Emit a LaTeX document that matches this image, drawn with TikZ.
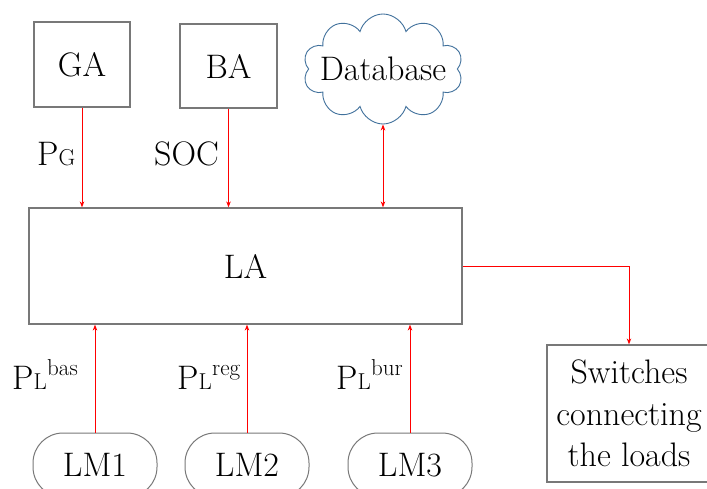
\documentclass[tikz,border=0pt]{standalone}
\usetikzlibrary{shapes.symbols,arrows.meta}
\definecolor{boxgray}{RGB}{120,120,120}
\definecolor{cloudblue}{RGB}{65,113,156}
\newcommand\bigtxt{\rmfamily\fontsize{34}{41.5}\selectfont}
\newcommand\smallfnt{\rmfamily\fontsize{23}{23}\selectfont}
\newcommand\smtxt[1]{{\smallfnt #1}}
\tikzset{
  agent/.style={draw=boxgray, line width=1.2pt, rectangle, inner sep=0pt,
                font=\bigtxt, align=center},
  lmbox/.style={draw=boxgray, line width=1pt, rectangle, rounded corners=30pt,
                inner sep=0pt, minimum width=124pt, minimum height=64pt, font=\bigtxt},
  lbl/.style={inner sep=0pt, anchor=base west, font=\bigtxt},
  suplbl/.style={inner sep=0pt, anchor=base west, font=\smallfnt, yshift=14pt},
  flow/.style={draw=red, line width=0.9pt, -{Stealth[length=6pt,width=4.5pt]}},
  flow2/.style={draw=red, line width=0.9pt, {Stealth[length=6pt,width=4.5pt]}-{Stealth[length=6pt,width=4.5pt]}}
}
\begin{document}
\begin{tikzpicture}[x=1pt,y=-1pt]
\fill[white] (0,0) rectangle (707,489);
\useasboundingbox (0,0) rectangle (707,489);

% agents
\node[agent, minimum width=96pt, minimum height=85pt] (GA) at (82,64.5) {GA};
\node[agent, minimum width=97pt, minimum height=84pt] (BA) at (228.5,66) {BA};
\node[cloud, cloud puffs=10, cloud ignores aspect, draw=cloudblue, line width=0.9pt,
      minimum width=160pt, minimum height=110pt, inner sep=0pt, font=\bigtxt]
      (DB) at (383,69) {\makebox[0pt]{Database}};
\node[agent, minimum width=433pt, minimum height=116pt] (LA) at (245.5,266) {LA};
\node[agent, minimum width=164pt, minimum height=137pt] (SW) at (629,413.5)
      {Switches\\connecting\\the loads};

% load managers
\node[lmbox] (LM1) at (95,465) {LM1};
\node[lmbox] (LM2) at (247,465) {LM2};
\node[lmbox] (LM3) at (410,465) {LM3};

% labels
\node[lbl] (lpg) at (37,166) {P\smtxt{G}};
\node[lbl] (lsoc) at (154,166) {SOC};
\node[lbl] (lbas) at (12,389) {P\smtxt{L}};
\node[suplbl] (lbasS) at (lbas.base east) {bas};
\node[lbl] (lreg) at (177,389) {P\smtxt{L}};
\node[suplbl] (lregS) at (lreg.base east) {reg};
\node[lbl] (lbur) at (336,389) {P\smtxt{L}};
\node[suplbl] (lburS) at (lbur.base east) {bur};

% connectors
\draw[flow] (GA.south) -- (GA.south |- LA.north);
\draw[flow] (BA.south) -- (BA.south |- LA.north);
\draw[flow2] (DB.south) -- (DB.south |- LA.north);
\draw[flow] (LM1.north) -- (LM1.north |- LA.south);
\draw[flow] (LM2.north) -- (LM2.north |- LA.south);
\draw[flow] (LM3.north) -- (LM3.north |- LA.south);
\draw[flow] (LA.east) -| (SW.north);
\end{tikzpicture}
\end{document}
